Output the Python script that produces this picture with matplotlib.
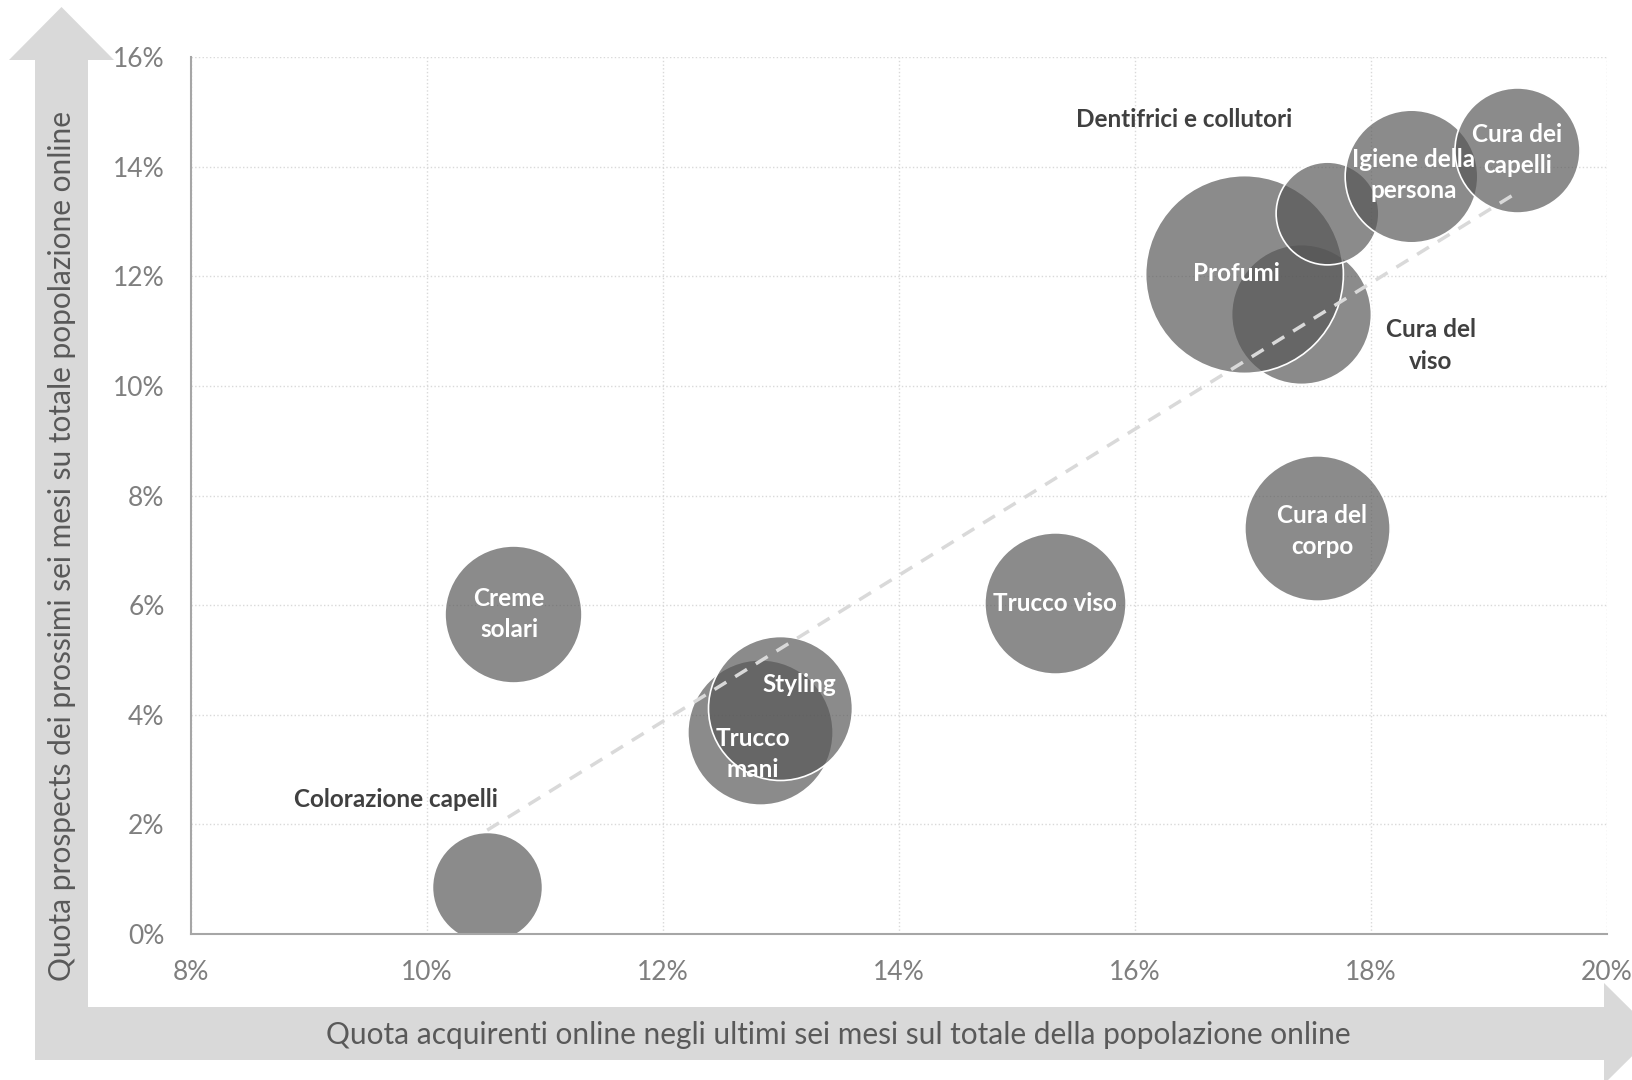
import numpy as np
import matplotlib
matplotlib.use("Agg")
import matplotlib.pyplot as plt
from matplotlib.patches import Polygon
from matplotlib.ticker import FuncFormatter

# ---------------- data ----------------
categories = ["Colorazione capelli", "Creme solari", "Trucco mani", "Styling",
              "Trucco viso", "Cura del corpo", "Cura del viso", "Profumi",
              "Dentifrici e collutori", "Igiene della persona", "Cura dei capelli"]
labels = ["Colorazione capelli", "Creme\nsolari", "Trucco\nmani", "Styling",
          "Trucco viso", "Cura del\ncorpo", "Cura del\nviso", "Profumi",
          "Dentifrici e collutori", "Igiene della\npersona", "Cura dei\ncapelli"]
buyers_share = [10.51, 10.73, 12.82, 12.99, 15.32, 17.54, 17.41, 16.92, 17.63, 18.34, 19.24]
prospects_share = [0.86, 5.84, 3.69, 4.13, 6.03, 7.40, 11.32, 12.05, 13.16, 13.82, 14.30]
bubble_size = [31, 48, 54, 53, 51, 54, 50, 100, 27, 45, 40]

x_ticks = [8, 10, 12, 14, 16, 18, 20]
y_ticks = [0, 2, 4, 6, 8, 10, 12, 14, 16]

# ---------------- style / layout ----------------
W, H = 1632, 1080
plt.rcParams['font.family'] = ['Lato', 'DejaVu Sans']
fig = plt.figure(figsize=(W / 100, H / 100), dpi=100)
fig.patch.set_facecolor('white')

def fx(px):
    return px / W

def fy(py):
    return 1 - py / H

# L-shaped big arrows (drawn in figure coordinates)
arrow_color = '#d9d9d9'
vert = [(35, 1060), (35, 60), (9, 60), (61.5, 7), (114, 60), (88, 60), (88, 1007),
        (1604, 1007), (1604, 983), (1655, 1033.5), (1604, 1084), (1604, 1060)]
poly = Polygon([(fx(a), fy(b)) for a, b in vert], closed=True, transform=fig.transFigure,
               facecolor=arrow_color, edgecolor='none', zorder=0)
fig.add_artist(poly)

ax = fig.add_axes([fx(191), fy(934), fx(1607) - fx(191), fy(57) - fy(934)])
ax.set_facecolor('none')
ax.set_xlim(8, 20)
ax.set_ylim(0, 16)
ax.set_xticks(x_ticks)
ax.set_yticks(y_ticks)
pct = FuncFormatter(lambda v, p: f"{v:.0f}%")
ax.xaxis.set_major_formatter(pct)
ax.yaxis.set_major_formatter(pct)
ax.tick_params(length=0, labelsize=19, labelcolor='#7f7f7f')
ax.tick_params(axis='y', pad=19)
ax.tick_params(axis='x', pad=19)
for s in ['top', 'right']:
    ax.spines[s].set_visible(False)
for s in ['left', 'bottom']:
    ax.spines[s].set_color('#a6a6a6')
    ax.spines[s].set_linewidth(1.5)
    ax.spines[s].set_zorder(5)
ax.grid(True, color='#d9d9d9', linestyle=':', linewidth=1.0, zorder=0)
ax.set_axisbelow(True)

# bubbles
max_s = 20280.0
sizes = [v / max(bubble_size) * max_s for v in bubble_size]
face = (85 / 255, 85 / 255, 85 / 255, 0.68)
for xi, yi, si in zip(buyers_share, prospects_share, sizes):
    ax.scatter([xi], [yi], s=si, facecolors=[face], edgecolors='white',
               linewidths=1.2, zorder=3, clip_on=True)

# linear trendline
coef = np.polyfit(buyers_share, prospects_share, 1)
xs = np.array([min(buyers_share), max(buyers_share)])
ax.plot(xs, np.polyval(coef, xs), linestyle=(0, (4, 3)), color='#d9d9d9',
        linewidth=2.5, zorder=4)

# labels
label_offsets = {
    "Colorazione capelli": (-66, 63, '#404040'),
    "Creme solari": (-3, 0, 'white'),
    "Trucco mani": (-5, -16, 'white'),
    "Styling": (14, 17, 'white'),
    "Trucco viso": (0, 0, 'white'),
    "Cura del corpo": (4, -2, 'white'),
    "Cura del viso": (93, -23, '#404040'),
    "Profumi": (-5, 0, 'white'),
    "Dentifrici e collutori": (-103, 67, '#404040'),
    "Igiene della persona": (2, 1, 'white'),
    "Cura dei capelli": (0, 0, 'white'),
}
for cat, lab, xi, yi in zip(categories, labels, buyers_share, prospects_share):
    dx, dy, col = label_offsets[cat]
    ax.annotate(lab, (xi, yi), xytext=(dx, dy), textcoords='offset points',
                ha='center', va='center', color=col, fontsize=17.5,
                fontweight='bold', linespacing=1.45, zorder=6)

# axis titles on the arrows
fig.text(fx(838), fy(1035), "Quota acquirenti online negli ultimi sei mesi sul totale della popolazione online",
         ha='center', va='center', fontsize=21.5, color='#595959')
fig.text(fx(62), fy(546), "Quota prospects dei prossimi sei mesi su totale popolazione online",
         ha='center', va='center', fontsize=21.5, color='#595959', rotation=90)

fig.savefig('out.png', dpi=100)
